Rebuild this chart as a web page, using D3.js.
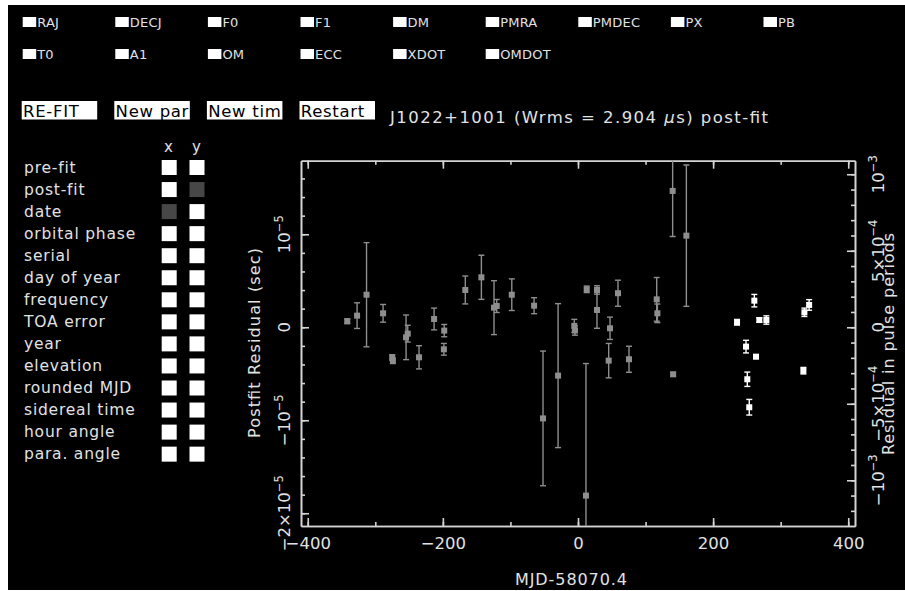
<!DOCTYPE html>
<html><head><meta charset="utf-8">
<script src="https://cdn.jsdelivr.net/npm/d3@7"></script>
<style>
html,body{margin:0;padding:0;background:#fff;}
svg{display:block;}
text{font-family:"DejaVu Sans",sans-serif;}
</style></head><body>
<svg id="c" width="905" height="591"></svg>
<script>
// ---------- data ----------
const paramsRow1 = ["RAJ","DECJ","F0","F1","DM","PMRA","PMDEC","PX","PB"];
const paramsRow2 = ["T0","A1","OM","ECC","XDOT","OMDOT"];
const buttons = ["RE-FIT","New par","New tim","Restart"];
const plotOptions = ["pre-fit","post-fit","date","orbital phase","serial","day of year","frequency","TOA error","year","elevation","rounded MJD","sidereal time","hour angle","para. angle"];
const xSelected = "date";
const ySelected = "post-fit";
const titleText = ["J1022+1001 (Wrms = 2.904 ", "μ", "s) post-fit"];
const xLabel = "MJD-58070.4";
const yLabel = "Postfit Residual (sec)";
const rLabel = "Residual in pulse periods";

const xMajorTicks = [-400,-200,0,200,400];
const xMinorTicks = [-400,-300,-200,-100,0,100,200,300,400];
// residuals in microseconds
const yMajorTicks = [-20,-10,0,10];
const yMajorLabels = [["−2×10","−5"],["−10","−5"],["0",""],["10","−5"]];
const yMinorTicks = [-20,-18,-16,-14,-12,-10,-8,-6,-4,-2,0,2,4,6,8,10,12,14,16];
// right axis in pulse periods
const pulsePeriodUs = 16452.9;
const rMajorTicks = [-1e-3,-5e-4,0,5e-4,1e-3];
const rMajorLabels = [["−10","−3"],["−5×10","−4"],["0",""],["5×10","−4"],["10","−3"]];
const rMinorTicks = [-1.2e-3,-1.1e-3,-1e-3,-9e-4,-8e-4,-7e-4,-6e-4,-5e-4,-4e-4,-3e-4,-2e-4,-1e-4,0,1e-4,2e-4,3e-4,4e-4,5e-4,6e-4,7e-4,8e-4,9e-4,1e-3];

// gray (earlier) TOAs: day offset, residual (us), error (us)
const grayDay = [-341.5,-327,-313,-288.5,-275,-274,-254.5,-252,-235.3,-213,-198,-198.5,-166.8,-143,-124.3,-120.3,-98,-65,-51.8,-29.5,-5.5,-4.5,12.9,11.8,28.1,28.1,47.4,45.4,59.2,75.5,116.5,117.5,140.1,140.8,160.4];
const grayRes = [0.65,1.25,3.5,1.5,-3.25,-3.6,-1.08,-0.69,-3.23,0.89,-0.36,-2.37,4.01,5.37,2.11,2.29,3.5,2.32,-9.8,-5.2,0.15,-0.35,4.08,-18.1,4.01,1.86,-0.11,-3.59,3.66,-3.44,3.0,1.5,14.66,-5.06,9.85];
const grayErr = [0.25,1.38,5.6,0.95,0.3,0.3,2.4,0.9,1.25,1.17,0.66,0.63,1.5,2.37,2.9,0.7,1.7,0.86,7.24,7.74,0.7,0.5,0.35,14.2,0.45,1.97,1.2,1.85,1.4,1.4,2.35,1.0,4.9,0.2,7.6];
// white (recent) TOAs
const whiteDay = [235.4,261,268.4,278.8,248.7,263.5,250.6,253.5,335.1,342.1,333.6];
const whiteRes = [0.54,2.86,0.78,0.78,-2.08,-3.16,-5.59,-8.6,1.61,2.4,-4.67];
const whiteErr = [0.3,0.67,0.25,0.45,0.68,0.2,0.77,0.84,0.45,0.57,0.35];

// ---------- style ----------
const FONT = '"DejaVu Sans",sans-serif';
const txtColor = "#e2e2e2";
const axisColor = "#d4d4d4";
const grayColor = "#8e8e8e";
const selColor = "#474747";

const svg = d3.select("#c");
svg.append("rect").attr("x",8).attr("y",5).attr("width",897).attr("height",585).attr("fill","#000");

// ---------- parameter checkboxes ----------
const colX = i => 22.7 + 92.6*i;
[[paramsRow1,17,27.3],[paramsRow2,49,58.5]].forEach(([row,by,bl])=>{
  const g = svg.append("g");
  row.forEach((p,i)=>{
    g.append("rect").attr("x",colX(i)).attr("y",by).attr("width",13.5).attr("height",10).attr("fill","#fff");
    g.append("text").attr("x",colX(i)+14.5).attr("y",bl).attr("fill",txtColor)
      .attr("font-size",13).attr("letter-spacing",0.2).text(p);
  });
});

// ---------- buttons ----------
buttons.forEach((b,i)=>{
  svg.append("rect").attr("x",colX(i)-1).attr("y",101).attr("width",75.5).attr("height",18.5).attr("fill","#fff");
  svg.append("text").attr("x",colX(i)+0.3).attr("y",116.5).attr("fill","#000")
    .attr("font-size",16.5).attr("letter-spacing",0.7).text(b);
});

// title
const tt = svg.append("text").attr("x",390).attr("y",123).attr("fill",txtColor).attr("font-size",16.5)
  .attr("textLength",378).attr("lengthAdjust","spacing");
tt.append("tspan").text(titleText[0]);
tt.append("tspan").attr("font-style","italic").text(titleText[1]);
tt.append("tspan").text(titleText[2]);

// ---------- plot option panel ----------
const rowY = i => 167.5 + 22.05*i;
svg.append("text").attr("x",168.5).attr("y",151.5).attr("text-anchor","middle").attr("fill",txtColor).attr("font-size",15).text("x");
svg.append("text").attr("x",196.5).attr("y",151.5).attr("text-anchor","middle").attr("fill",txtColor).attr("font-size",15).text("y");
plotOptions.forEach((o,i)=>{
  svg.append("text").attr("x",24).attr("y",rowY(i)+5.2).attr("fill",txtColor)
    .attr("font-size",15.5).attr("letter-spacing",0.8).text(o);
  svg.append("rect").attr("x",161.7).attr("y",rowY(i)-7.5).attr("width",15).attr("height",15)
    .attr("fill", o===xSelected ? selColor : "#fff");
  svg.append("rect").attr("x",189.5).attr("y",rowY(i)-7.5).attr("width",15).attr("height",15)
    .attr("fill", o===ySelected ? selColor : "#fff");
});

// ---------- scales ----------
const L = 301, R = 855, T = 160.7, B = 526;
const x = d3.scaleLinear().domain([-410,410]).range([L,R]);
const y = d3.scaleLinear().domain([-21.37,17.91]).range([B,T]);
const yR = d3.scaleLinear().domain([-21.37/pulsePeriodUs, 17.91/pulsePeriodUs]).range([B,T]);

function styleAx(g){
  g.attr("font-family",FONT);
  g.selectAll("path,line").attr("stroke",axisColor).attr("stroke-width",1.6);
}
function noText(g){ g.selectAll("text").remove(); }

// minor ticks
svg.append("g").attr("transform",`translate(0,${B})`)
  .call(d3.axisBottom(x).tickValues(xMinorTicks).tickSizeInner(-4).tickSizeOuter(0).tickFormat(""))
  .call(styleAx).call(noText);
svg.append("g").attr("transform",`translate(0,${T})`)
  .call(d3.axisTop(x).tickValues(xMinorTicks).tickSizeInner(-4).tickSizeOuter(0).tickFormat(""))
  .call(styleAx).call(noText);
svg.append("g").attr("transform",`translate(${L},0)`)
  .call(d3.axisLeft(y).tickValues(yMinorTicks).tickSizeInner(-4).tickSizeOuter(0).tickFormat(""))
  .call(styleAx).call(noText);
svg.append("g").attr("transform",`translate(${R},0)`)
  .call(d3.axisRight(yR).tickValues(rMinorTicks).tickSizeInner(-4).tickSizeOuter(0).tickFormat(""))
  .call(styleAx).call(noText);
// major ticks
const xb = svg.append("g").attr("transform",`translate(0,${B})`)
  .call(d3.axisBottom(x).tickValues(xMajorTicks).tickSizeInner(-8).tickSizeOuter(0).tickPadding(11)
     .tickFormat(d => d<0 ? "−"+(-d) : String(d)))
  .call(styleAx);
xb.selectAll("text").attr("fill",txtColor).attr("font-size",16.5);
svg.append("g").attr("transform",`translate(0,${T})`)
  .call(d3.axisTop(x).tickValues(xMajorTicks).tickSizeInner(-8).tickSizeOuter(0).tickFormat(""))
  .call(styleAx).call(noText);
svg.append("g").attr("transform",`translate(${L},0)`)
  .call(d3.axisLeft(y).tickValues(yMajorTicks).tickSizeInner(-8).tickSizeOuter(0).tickFormat(""))
  .call(styleAx).call(noText);
svg.append("g").attr("transform",`translate(${R},0)`)
  .call(d3.axisRight(yR).tickValues(rMajorTicks).tickSizeInner(-8).tickSizeOuter(0).tickFormat(""))
  .call(styleAx).call(noText);

// rotated tick labels with superscripts
function rotLabel(px, py, parts){
  const t = svg.append("text").attr("transform",`translate(${px},${py}) rotate(-90)`)
    .attr("text-anchor","middle").attr("fill",txtColor).attr("font-size",16.5);
  t.append("tspan").text(parts[0]);
  if(parts[1]) t.append("tspan").attr("font-size",11.5).attr("dy",-7).text(parts[1]);
}
yMajorTicks.forEach((v,i)=>rotLabel(290, y(v), yMajorLabels[i]));
rMajorTicks.forEach((v,i)=>rotLabel(884, yR(v), rMajorLabels[i]));

// axis titles
svg.append("text").attr("x",571).attr("y",585).attr("text-anchor","middle").attr("fill",txtColor)
  .attr("font-size",16).attr("textLength",112).attr("lengthAdjust","spacing").text(xLabel);
svg.append("text").attr("transform",`translate(260,343) rotate(-90)`).attr("text-anchor","middle").attr("fill",txtColor)
  .attr("font-size",16).attr("textLength",190).attr("lengthAdjust","spacing").text(yLabel);
svg.append("text").attr("transform",`translate(894,344) rotate(-90)`).attr("text-anchor","middle").attr("fill",txtColor)
  .attr("font-size",16).attr("textLength",222).attr("lengthAdjust","spacing").text(rLabel);

// ---------- data marks ----------
svg.append("clipPath").attr("id","pc").append("rect").attr("x",L).attr("y",T).attr("width",R-L).attr("height",B-T);
const plot = svg.append("g").attr("clip-path","url(#pc)");
function series(days, res, errs, color){
  const d = days.map((v,i)=>({x:v, y:res[i], e:errs[i]}));
  const g = plot.append("g");
  g.selectAll("line.bar").data(d).join("line").attr("class","bar")
    .attr("x1",p=>x(p.x)).attr("x2",p=>x(p.x)).attr("y1",p=>y(p.y-p.e)).attr("y2",p=>y(p.y+p.e))
    .attr("stroke",color).attr("stroke-width",1.4);
  ["lo","hi"].forEach(k=>{
    g.selectAll("line.cap"+k).data(d).join("line").attr("class","cap"+k)
      .attr("x1",p=>x(p.x)-3).attr("x2",p=>x(p.x)+3)
      .attr("y1",p=>y(k==="lo"?p.y-p.e:p.y+p.e)).attr("y2",p=>y(k==="lo"?p.y-p.e:p.y+p.e))
      .attr("stroke",color).attr("stroke-width",1.4);
  });
  g.selectAll("rect").data(d).join("rect")
    .attr("x",p=>x(p.x)-3).attr("y",p=>y(p.y)-3).attr("width",6).attr("height",6).attr("fill",color);
}
series(grayDay, grayRes, grayErr, grayColor);
series(whiteDay, whiteRes, whiteErr, "#ffffff");
</script>
</body></html>
